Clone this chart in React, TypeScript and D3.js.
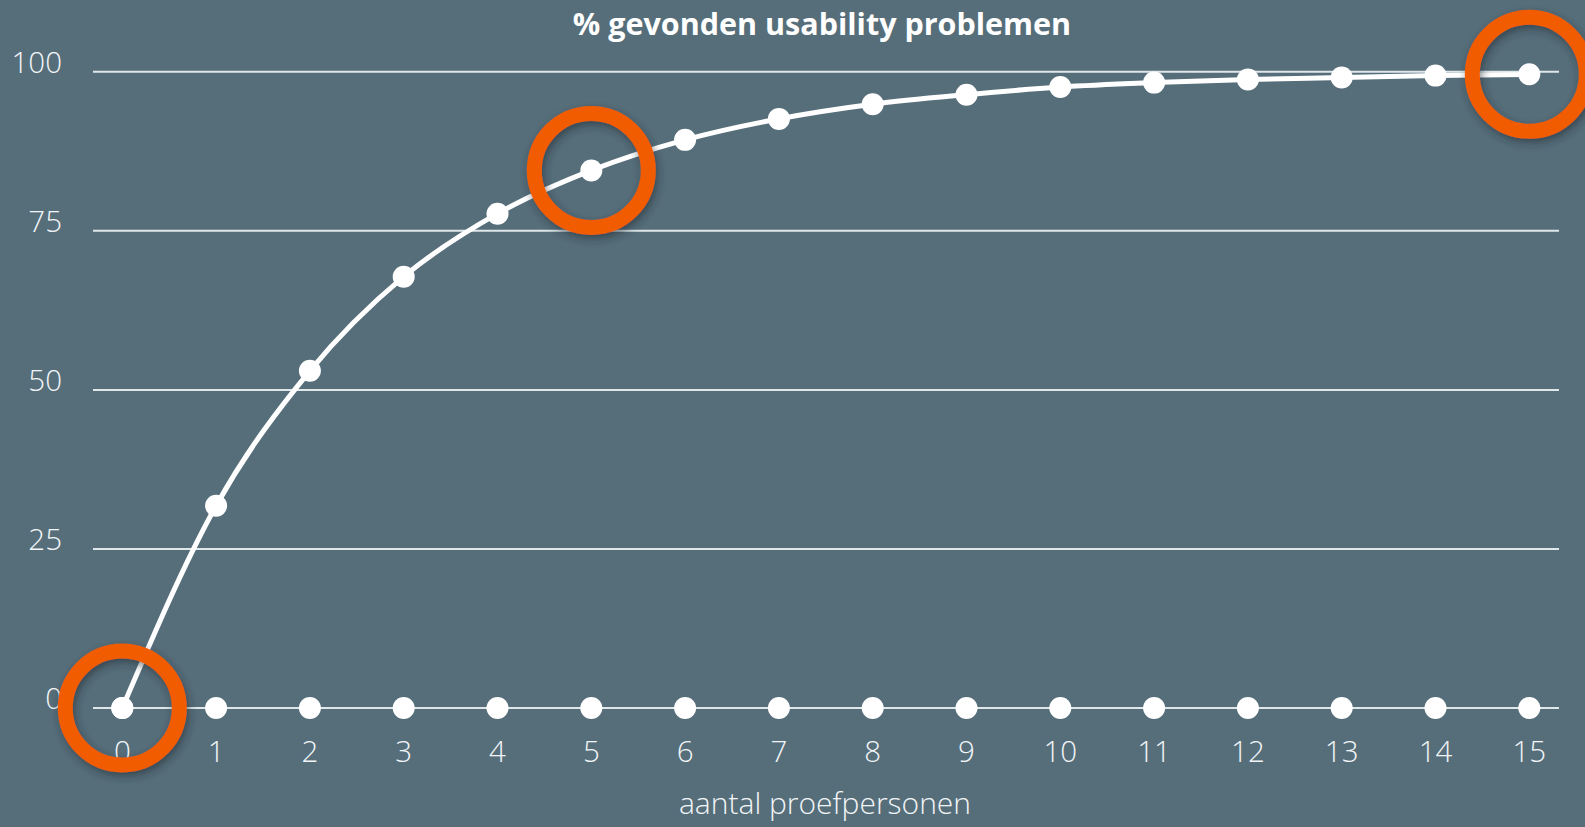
import React from "react";
import * as d3 from "d3";

const W = 1585;
const H = 827;

const title = "% gevonden usability problemen";
const xTitle = "aantal proefpersonen";
const participants = [0, 1, 2, 3, 4, 5, 6, 7, 8, 9, 10, 11, 12, 13, 14, 15];
const foundPct = [0, 31.8, 53, 67.8, 77.7, 84.5, 89.3, 92.6, 94.9, 96.4, 97.6, 98.3, 98.8, 99.1, 99.4, 99.6];
const baselineVals = participants.map(() => 0);
const yTicks = [0, 25, 50, 75, 100];
const highlighted = [0, 5, 15];

const BG = "#566e7a";
const ORANGE = "#f25c05";
const FONT = "'Open Sans', 'Noto Sans', sans-serif";

export default function App() {
  const x = d3.scaleLinear().domain([0, 15]).range([122.3, 1529.3]);
  const y = d3.scaleLinear().domain([0, 100]).range([708, 71.8]);
  const line = d3
    .line<number>()
    .x((_, i) => x(participants[i]))
    .y((d) => y(d))
    .curve(d3.curveMonotoneX);

  return (
    <svg
      width={W}
      height={H}
      style={{ position: "fixed", left: 0, top: 0, background: BG, display: "block" }}
    >
      <defs>
        <filter id="shadow" x="-30%" y="-30%" width="160%" height="160%">
          <feDropShadow dx="2" dy="4" stdDeviation="4" floodColor="#1f2b31" floodOpacity="0.55" />
        </filter>
      </defs>
      <rect x={0} y={0} width={W} height={H} fill={BG} />
      <text
        x={822}
        y={35}
        textAnchor="middle"
        fill="#fff"
        fontFamily={FONT}
        fontWeight={700}
        fontSize={30.5}
      >
        {title}
      </text>
      {yTicks.map((t) => (
        <g key={t}>
          <line x1={93} x2={1559} y1={y(t)} y2={y(t)} stroke="#dfe7eb" strokeWidth={2} />
          <text
            x={62}
            y={y(t) + 1}
            textAnchor="end"
            fill="#f2f5f7"
            fontFamily={FONT}
            fontWeight={300}
            fontSize={29.5}
          >
            {t}
          </text>
        </g>
      ))}
      {participants.map((p) => (
        <text
          key={p}
          x={x(p)}
          y={762}
          textAnchor="middle"
          fill="#f2f5f7"
          fontFamily={FONT}
          fontWeight={300}
          fontSize={29.5}
        >
          {p}
        </text>
      ))}
      <text
        x={825}
        y={814}
        textAnchor="middle"
        fill="#f2f5f7"
        fontFamily={FONT}
        fontWeight={300}
        fontSize={30}
      >
        {xTitle}
      </text>
      <path d={line(foundPct) || ""} fill="none" stroke="#fff" strokeWidth={5} />
      {baselineVals.map((v, i) => (
        <circle key={"b" + i} cx={x(participants[i])} cy={y(v)} r={11} fill="#fff" />
      ))}
      {foundPct.map((v, i) => (
        <circle key={"p" + i} cx={x(participants[i])} cy={y(v)} r={11} fill="#fff" />
      ))}
      {highlighted.map((p) => (
        <circle
          key={"h" + p}
          cx={x(p)}
          cy={y(foundPct[p])}
          r={57}
          fill="none"
          stroke={ORANGE}
          strokeWidth={15}
          filter="url(#shadow)"
        />
      ))}
    </svg>
  );
}
